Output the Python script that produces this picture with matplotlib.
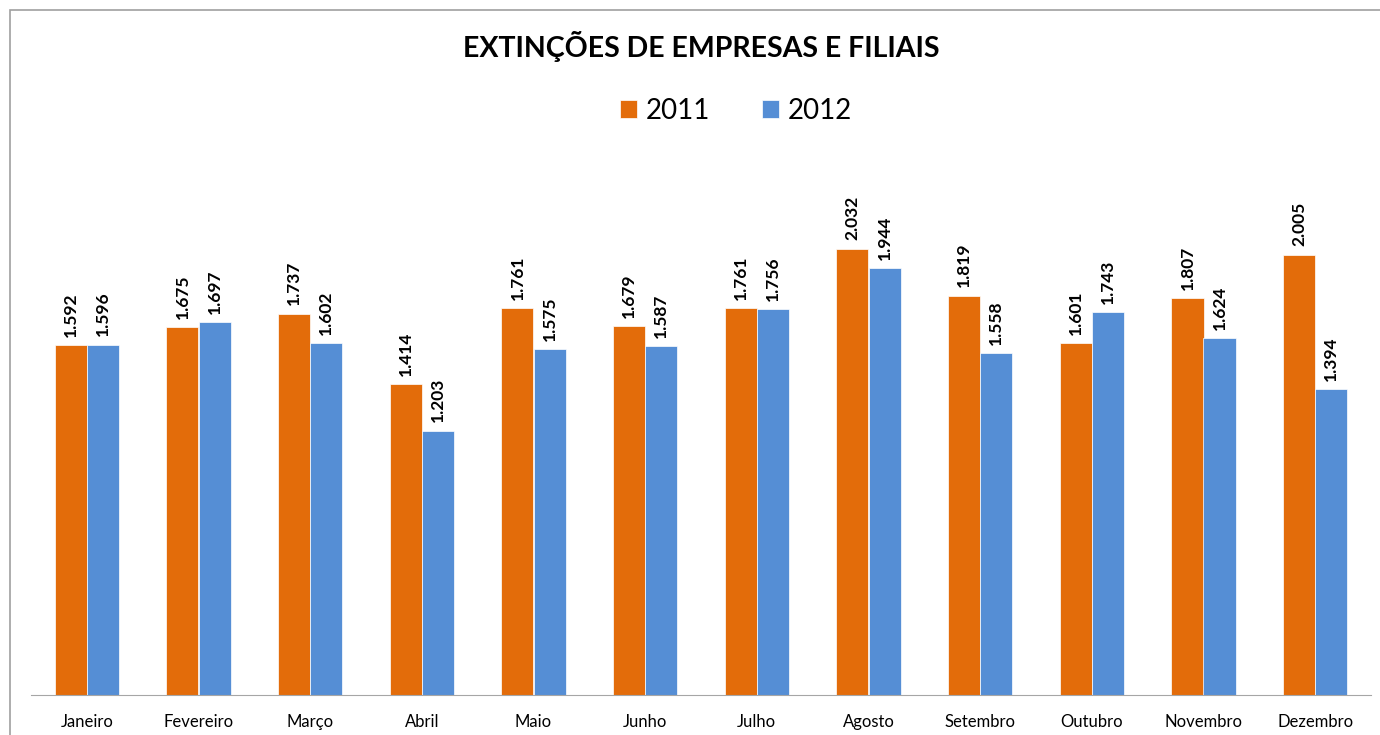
import numpy as np
import matplotlib.pyplot as plt
from matplotlib.patches import Rectangle

# dados
meses = ["Janeiro", "Fevereiro", "Março", "Abril", "Maio", "Junho", "Julho",
         "Agosto", "Setembro", "Outubro", "Novembro", "Dezembro"]
v2011 = [1592, 1675, 1737, 1414, 1761, 1679, 1761, 2032, 1819, 1601, 1807, 2005]
v2012 = [1596, 1697, 1602, 1203, 1575, 1587, 1756, 1944, 1558, 1743, 1624, 1394]

cor2011 = "#E36C0A"
cor2012 = "#558ED5"

plt.rcParams['font.family'] = ['Lato', 'DejaVu Sans']

fig = plt.figure(figsize=(13.8, 7.35), dpi=100)
ax = fig.add_axes([31/1380, 40/735, 1340/1380, 549/735])

x = np.arange(len(meses))
w = 0.287
b1 = ax.bar(x - w/2, v2011, w, color=cor2011, edgecolor="white", linewidth=0.5, label="2011")
b2 = ax.bar(x + w/2, v2012, w, color=cor2012, edgecolor="white", linewidth=0.5, label="2012")

def fmt(v):
    return f"{v:,}".replace(",", ".")

for barras in (b1, b2):
    for b in barras:
        ax.annotate(fmt(int(b.get_height())), (b.get_x() + b.get_width()/2, b.get_height()),
                    xytext=(0, 6), textcoords="offset points", rotation=90,
                    ha="center", va="bottom", fontsize=12.5, fontweight="bold")

ax.set_xlim(-0.5, len(meses) - 0.5)
ax.set_ylim(0, 2500)
ax.set_xticks(x)
ax.set_xticklabels(meses, fontsize=12)
ax.tick_params(axis="x", length=0, pad=14)
ax.set_yticks([])
for s in ("top", "right", "left"):
    ax.spines[s].set_visible(False)
ax.spines["bottom"].set_color("#A6A6A6")

fig.text(701/1380, 1 - 47/735, "EXTINÇÕES DE EMPRESAS E FILIAIS", ha="center", va="center",
         fontsize=20.5, fontweight="bold")
fig.legend(handles=[b1, b2], loc="center", bbox_to_anchor=(736/1380, 1 - 111/735), ncol=2,
           frameon=False, fontsize=20, handlelength=0.6, handleheight=0.6,
           handletextpad=0.3, columnspacing=1.9)

# borda do gráfico
fig.patches.append(Rectangle((10/1380, -0.01), 1.1, 1 - 10/735 + 0.01, transform=fig.transFigure,
                             fill=False, edgecolor="#A0A0A0", linewidth=1.2))

fig.savefig("out.png", dpi=100)
